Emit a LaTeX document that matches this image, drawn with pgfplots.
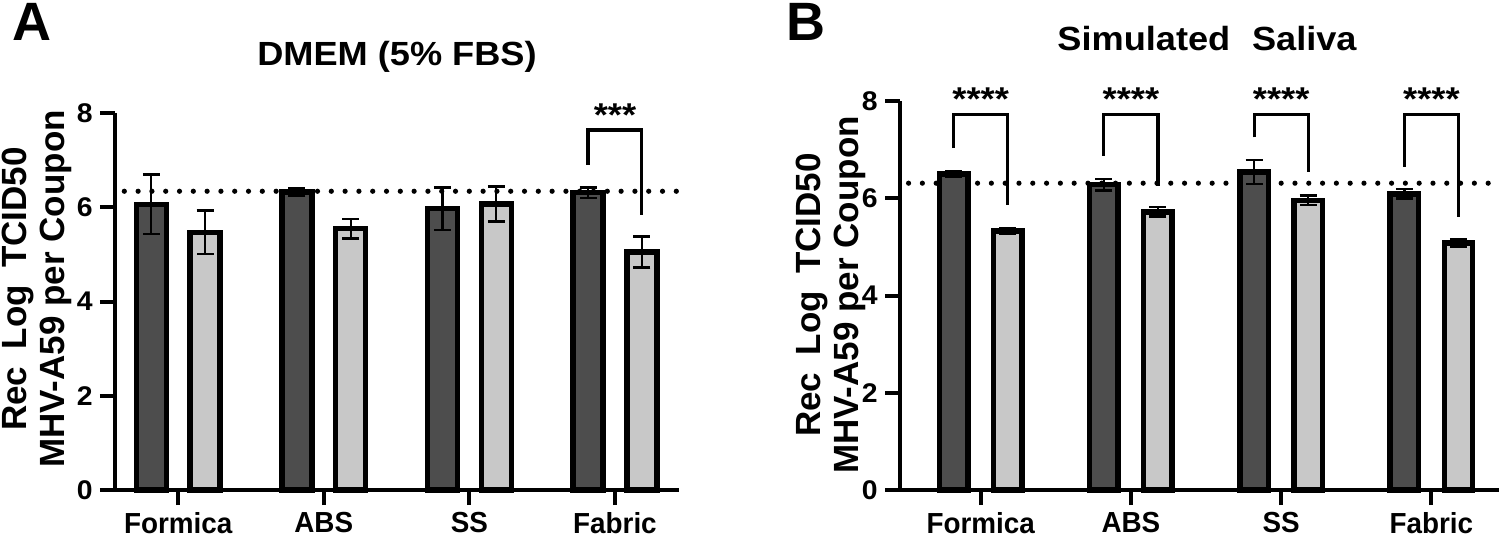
\documentclass[border=0pt]{standalone}
\usepackage{pgfplots}
\pgfplotsset{compat=1.18}
\usepackage{pgfplotstable}
\usepackage{fontspec}
\setmainfont{Liberation Sans}
\definecolor{darkbar}{HTML}{4D4D4D}
\definecolor{lightbar}{HTML}{C8C8C8}

% Panel A (DMEM 5% FBS): x position, mean, error
\pgfplotstableread{
x y e
-0.185 6.06 0.63
0.815 6.32 0.08
1.815 5.97 0.45
2.815 6.31 0.11
}\Adark
\pgfplotstableread{
x y e
0.185 5.47 0.46
1.185 5.545 0.21
2.185 6.07 0.37
3.185 5.05 0.33
}\Alight
% Panel B (Simulated Saliva)
\pgfplotstableread{
x y e
-0.18 6.50 0.05
0.82 6.28 0.12
1.82 6.54 0.25
2.82 6.09 0.10
}\Bdark
\pgfplotstableread{
x y e
0.18 5.33 0.05
1.18 5.72 0.10
2.18 5.96 0.10
3.18 5.08 0.07
}\Blight

\pgfplotsset{
  panel/.style={
    scale only axis, anchor=south west,
    axis lines=left, axis line style={line width=2pt,-},
    ymin=0, ymax=8, ytick={0,2,4,6,8},
    xtick={0,1,2,3}, xticklabels={Formica,ABS,SS,Fabric},
    tick align=outside, major tick length=7.5pt,
    tick style={line width=2pt, black},
    xticklabel style={font=\fontsize{14.5}{16}\selectfont\bfseries, xscale=0.96},
    yticklabel style={font=\fontsize{13.5}{15}\selectfont\bfseries, xscale=1.05},
    /pgf/number format/assume math mode=true,
    clip=false, ybar,
  },
  darkplot/.style={draw=black, line width=2.7pt, fill=darkbar, bar shift=0pt,
    error bars/.cd, y dir=both, y explicit,
    error bar style={line width=1.15pt, black},
    error mark options={rotate=90, line width=1.3pt, mark size=4.25pt, black}},
  lightplot/.style={draw=black, line width=2.7pt, fill=lightbar, bar shift=0pt,
    error bars/.cd, y dir=both, y explicit,
    error bar style={line width=1.15pt, black},
    error mark options={rotate=90, line width=1.3pt, mark size=4.25pt, black}},
}
\tikzset{stars/.style={anchor=base, font=\fontsize{16.5}{18}\selectfont\bfseries, xscale=1.1},
  brk/.style={line width=1.6pt},
  dots/.style={line width=2.6pt, line cap=round, dash pattern=on 0pt off 6.9pt}}

\begin{document}
\begin{tikzpicture}
\path[use as bounding box] (0,0) rectangle (750pt,269pt);

% ---------- Panel A ----------
\begin{axis}[panel, at={(57.5pt,24pt)}, width=282pt, height=188.5pt,
  xmin=-0.434, xmax=3.44, bar width=15pt]
  \draw[dots] (axis cs:-0.37,6.34) -- (axis cs:3.44,6.34);
  \addplot[darkplot] table[x=x,y=y,y error=e] {\Adark};
  \addplot[lightplot] table[x=x,y=y,y error=e] {\Alight};
  \draw[brk] (axis cs:2.815,6.90) -- (axis cs:2.815,7.64) -- (axis cs:3.185,7.64) -- (axis cs:3.185,5.84);
  \node[stars] at (axis cs:3,7.72) {***};
\end{axis}

% ---------- Panel B ----------
\begin{axis}[panel, at={(450pt,24pt)}, width=299.5pt, height=194.5pt,
  xmin=-0.537, xmax=3.45, bar width=14.2pt]
  \draw[dots] (axis cs:-0.48,6.31) -- (axis cs:3.45,6.31);
  \addplot[darkplot] table[x=x,y=y,y error=e] {\Bdark};
  \addplot[lightplot] table[x=x,y=y,y error=e] {\Blight};
  \draw[brk] (axis cs:-0.18,7.03) -- (axis cs:-0.18,7.73) -- (axis cs:0.18,7.73) -- (axis cs:0.18,5.86);
  \draw[brk] (axis cs:0.82,6.87) -- (axis cs:0.82,7.73) -- (axis cs:1.18,7.73) -- (axis cs:1.18,6.26);
  \draw[brk] (axis cs:1.82,7.25) -- (axis cs:1.82,7.73) -- (axis cs:2.18,7.73) -- (axis cs:2.18,6.55);
  \draw[brk] (axis cs:2.82,6.65) -- (axis cs:2.82,7.73) -- (axis cs:3.18,7.73) -- (axis cs:3.18,5.61);
  \node[stars] at (axis cs:0,7.81) {****};
  \node[stars] at (axis cs:1,7.81) {****};
  \node[stars] at (axis cs:2,7.81) {****};
  \node[stars] at (axis cs:3,7.81) {****};
\end{axis}

% ---------- Titles, letters, y labels ----------
\node[anchor=base west, inner sep=0pt, font=\fontsize{27}{30}\selectfont\bfseries] at (6pt,249pt) {A};
\node[anchor=base west, inner sep=0pt, font=\fontsize{27}{30}\selectfont\bfseries] at (393pt,249pt) {B};
\node[anchor=base, inner sep=0pt, font=\fontsize{16.75}{18}\selectfont\bfseries, xscale=1.08] at (198.5pt,236.5pt) {DMEM (5\% FBS)};
\node[anchor=base, inner sep=0pt, font=\fontsize{16.75}{18}\selectfont\bfseries, xscale=1.08] at (603.5pt,244pt) {Simulated\hspace{0.6em}Saliva};
\node[rotate=90, align=center, inner sep=0pt, font=\fontsize{17.5}{19}\selectfont\bfseries] at (18.5pt,124.5pt)
  {Rec\hspace{0.5em}Log\hspace{0.5em}TCID50\\MHV-A59 per Coupon};
\node[rotate=90, align=center, inner sep=0pt, font=\fontsize{17.5}{19}\selectfont\bfseries] at (415.5pt,121.5pt)
  {Rec\hspace{0.5em}Log\hspace{0.5em}TCID50\\MHV-A59 per Coupon};
\end{tikzpicture}
\end{document}
